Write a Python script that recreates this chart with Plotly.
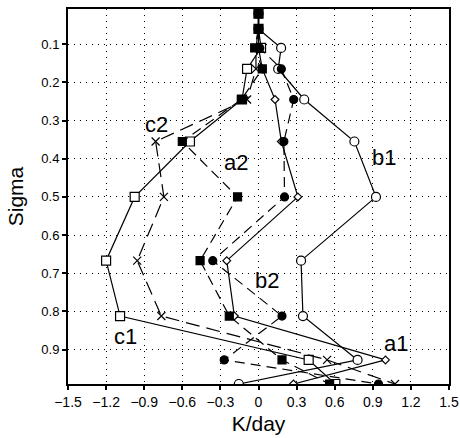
import plotly.graph_objects as go

sigma = [0.02, 0.06, 0.11, 0.165, 0.245, 0.355, 0.5, 0.667, 0.812, 0.927, 0.99]

a1 = [0.0, 0.0, 0.0, 0.03, 0.13, 0.18, 0.31, -0.25, -0.19, 1.0, 0.275]
a2 = [0.0, 0.0, -0.03, 0.03, -0.135, -0.60, -0.165, -0.46, -0.23, 0.185, 0.56]
b1 = [0.0, 0.0, 0.178, 0.155, 0.36, 0.755, 0.925, 0.335, 0.35, 0.78, -0.155]
b2 = [0.0, 0.0, 0.01, 0.18, 0.277, 0.2, 0.205, -0.36, 0.185, -0.27, 0.945]
c1 = [0.0, 0.0, 0.02, -0.09, -0.13, -0.54, -0.975, -1.2, -1.09, 0.395, 0.605]
c2 = [0.0, 0.0, -0.02, -0.02, -0.09, -0.81, -0.745, -0.955, -0.765, 0.54, 1.075]

labels = ["a1", "a2", "b1", "b2", "c1", "c2"]
label_x = [1.08, -0.175, 0.99, 0.07, -1.045, -0.80]
label_y = [0.883, 0.41, 0.398, 0.72, 0.866, 0.311]

xticks = [-1.5, -1.2, -0.9, -0.6, -0.3, 0, 0.3, 0.6, 0.9, 1.2, 1.5]
xticktext = ["\u22121.5", "\u22121.2", "\u22120.9", "\u22120.6", "\u22120.3", "0", "0.3", "0.6", "0.9", "1.2", "1.5"]
yticks = [0.1, 0.2, 0.3, 0.4, 0.5, 0.6, 0.7, 0.8, 0.9]

fig = go.Figure()

def add(xs, dash, symbol, size, fill, lw=1.2):
    fig.add_trace(go.Scatter(
        x=xs, y=sigma, mode="lines+markers",
        line=dict(color="black", width=lw, dash=dash),
        marker=dict(symbol=symbol, size=size, color=fill,
                    line=dict(color="black", width=1.2)),
        showlegend=False))

add(c1, "solid", "square", 9, "white")
add(c2, "14px,7px", "x-thin", 8, "black")
add(b1, "solid", "circle", 9, "white")
add(a1, "solid", "diamond", 6, "white")
add(b2, "10px,6px", "circle", 8, "black")
add(a2, "10px,6px", "square", 8, "black")

for t, lx, ly in zip(labels, label_x, label_y):
    fig.add_annotation(x=lx, y=ly, text=t, showarrow=False,
                       font=dict(family="Liberation Sans", size=22, color="black"),
                       bgcolor="rgba(0,0,0,0)")

fig.update_layout(
    width=460, height=438,
    margin=dict(l=68, r=11, t=9, b=54),
    paper_bgcolor="white", plot_bgcolor="white",
    font=dict(family="Liberation Sans", size=13, color="black"),
)
fig.update_xaxes(
    range=[-1.5, 1.5], tickvals=xticks, ticktext=xticktext,
    tickfont=dict(size=14), ticklabeloverflow="allow", automargin=False,
    showgrid=True, gridcolor="black", gridwidth=1, griddash="1px,5px",
    zeroline=False, showline=True, linecolor="black", linewidth=2, mirror=True,
    ticks="outside", ticklen=4, tickwidth=1.5, tickcolor="black",
    title=dict(text="K/day", font=dict(size=21), standoff=8),
)
fig.update_yaxes(
    range=[0.99, 0.008], tickvals=yticks, ticktext=[str(v) for v in yticks],
    tickfont=dict(size=13), automargin=False,
    showgrid=True, gridcolor="black", gridwidth=1, griddash="1px,5px",
    zeroline=False, showline=True, linecolor="black", linewidth=2, mirror=True,
    ticks="outside", ticklen=4, tickwidth=1.5, tickcolor="black",
    title=dict(text="Sigma", font=dict(size=21), standoff=12),
)

fig.write_html("out.html", config={"displayModeBar": False},
               post_script="document.body.style.margin='0px';")
